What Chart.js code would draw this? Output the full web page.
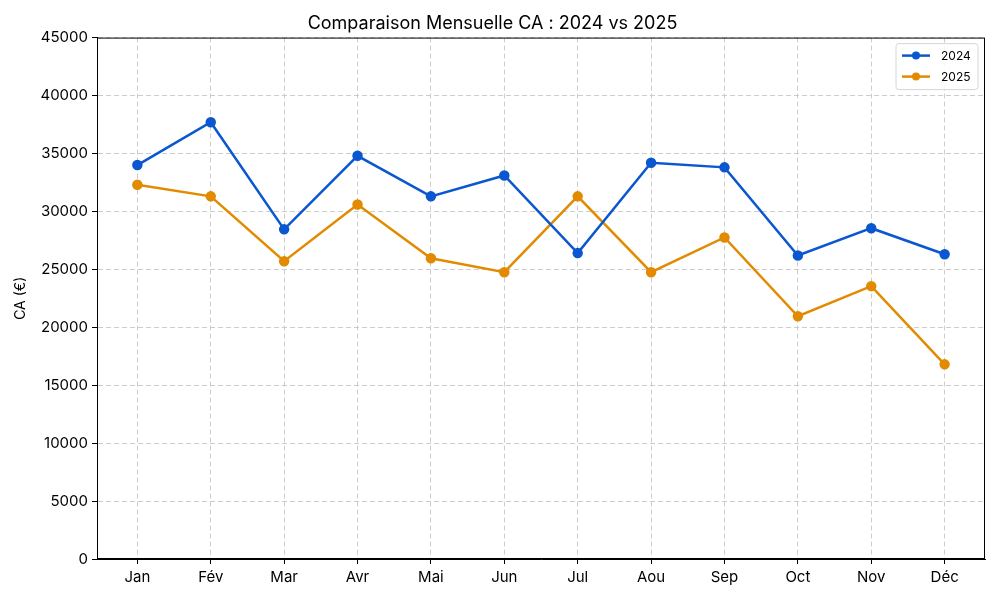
<!DOCTYPE html>
<html>
<head>
<meta charset="utf-8">
<script src="https://cdn.jsdelivr.net/npm/chart.js@4"></script>
<style>
  body { margin: 0; background: #fff; }
  #wrap { width: 1000px; height: 600px; }
</style>
</head>
<body>
<div id="wrap"><canvas id="myChart"></canvas></div>
<script>
const months = ['Jan', 'Fév', 'Mar', 'Avr', 'Mai', 'Jun', 'Jul', 'Aou', 'Sep', 'Oct', 'Nov', 'Déc'];
const ca2024 = [34000, 37700, 28450, 34800, 31300, 33100, 26400, 34200, 33800, 26200, 28550, 26300];
const ca2025 = [32300, 31300, 25700, 30600, 25950, 24750, 31300, 24750, 27750, 20950, 23550, 16800];
const yTicks = [0, 5000, 10000, 15000, 20000, 25000, 30000, 35000, 40000, 45000];

const FONT = 'Inter, "Noto Sans", sans-serif';

function toPoints(values) {
    return values.map((v, i) => ({ x: i, y: v }));
}

// cadre complet + légende encadrée en haut à droite
const framePlugin = {
    id: 'frame',
    afterDraw(chart) {
        const ctx = chart.ctx;
        const a = chart.chartArea;
        ctx.save();
        ctx.strokeStyle = '#000';
        ctx.lineWidth = 1;
        ctx.strokeRect(a.left + 0.5, a.top + 0.5, a.right - a.left - 1, a.bottom - a.top - 1);

        const w = 82, h = 46;
        const x0 = a.right - w - 7, y0 = a.top + 6;
        ctx.fillStyle = 'rgba(255,255,255,0.85)';
        ctx.strokeStyle = '#d6d6d6';
        ctx.beginPath();
        ctx.roundRect(x0, y0, w, h, 3);
        ctx.fill();
        ctx.stroke();
        chart.data.datasets.forEach((ds, i) => {
            const yy = y0 + 12 + i * 21;
            ctx.strokeStyle = ds.borderColor;
            ctx.lineWidth = 2.5;
            ctx.beginPath();
            ctx.moveTo(x0 + 6, yy);
            ctx.lineTo(x0 + 34, yy);
            ctx.stroke();
            ctx.fillStyle = ds.borderColor;
            ctx.beginPath();
            ctx.arc(x0 + 20, yy, 4, 0, Math.PI * 2);
            ctx.fill();
            ctx.fillStyle = '#000';
            ctx.font = '12px ' + FONT;
            ctx.textBaseline = 'middle';
            ctx.fillText(ds.label, x0 + 45, yy + 1);
        });
        ctx.restore();
    }
};

new Chart(document.getElementById('myChart').getContext('2d'), {
    type: 'line',
    data: {
        datasets: [
            { label: '2024', data: toPoints(ca2024), borderColor: '#0b57d0', backgroundColor: '#0b57d0',
              borderWidth: 2.5, pointRadius: 4, pointHoverRadius: 4, tension: 0 },
            { label: '2025', data: toPoints(ca2025), borderColor: '#e38b00', backgroundColor: '#e38b00',
              borderWidth: 2.5, pointRadius: 4, pointHoverRadius: 4, tension: 0 }
        ]
    },
    options: {
        responsive: true,
        maintainAspectRatio: false,
        animation: false,
        layout: { padding: { top: 0, right: 15, bottom: 0, left: 0 } },
        plugins: {
            legend: { display: false },
            tooltip: { enabled: false },
            title: {
                display: true,
                text: 'Comparaison Mensuelle CA : 2024 vs 2025',
                color: '#000',
                font: { family: FONT, size: 18, weight: 'normal' },
                padding: { top: 13, bottom: 3 }
            }
        },
        scales: {
            x: {
                type: 'linear',
                min: -0.55,
                max: 11.55,
                afterBuildTicks(axis) {
                    axis.ticks = months.map((m, i) => ({ value: i }));
                },
                ticks: {
                    color: '#000',
                    font: { family: FONT, size: 15 },
                    padding: 4,
                    callback: (v) => months[v]
                },
                grid: {
                    color: '#cccccc',
                    tickColor: '#000',
                    tickLength: 5
                },
                border: { display: true, color: '#000', dash: [5, 3] },
                afterFit(axis) { axis.height = 41; }
            },
            y: {
                min: 0,
                max: 45000,
                afterBuildTicks(axis) {
                    axis.ticks = yTicks.map(v => ({ value: v }));
                },
                ticks: {
                    color: '#000',
                    font: { family: FONT, size: 15 },
                    padding: 4,
                    callback: (v) => String(v)
                },
                grid: {
                    color: '#cccccc',
                    tickColor: '#000',
                    tickLength: 5
                },
                border: { display: true, color: '#000', dash: [5, 3] },
                title: {
                    display: true,
                    text: 'CA (€)',
                    color: '#000',
                    font: { family: FONT, size: 14 },
                    padding: { top: 12, bottom: 2 }
                },
                afterFit(axis) { axis.width = 97; }
            }
        }
    },
    plugins: [framePlugin]
});
</script>
</body>
</html>
